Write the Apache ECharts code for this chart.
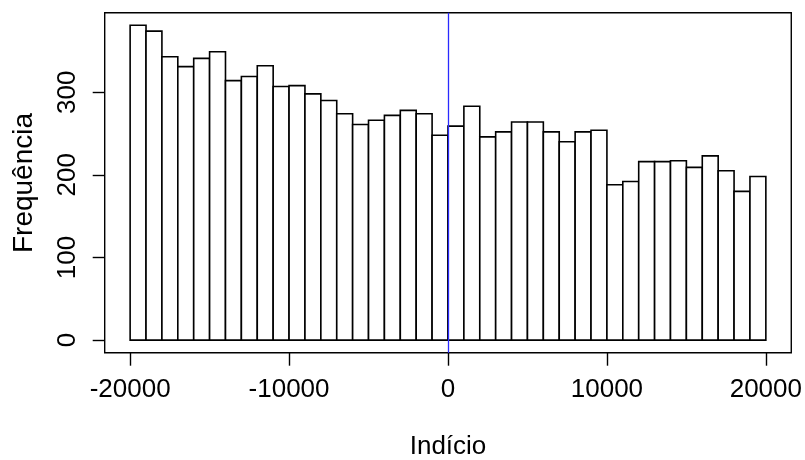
<!DOCTYPE html>
<html>
<head>
<meta charset="utf-8">
<script src="https://cdn.jsdelivr.net/npm/echarts@6/dist/echarts.min.js"></script>
<style>html,body{margin:0;padding:0;background:#fff}#c{width:805px;height:460px}</style>
</head>
<body>
<div id="c"></div>
<script>
// Histogram bin edges (width 1000) and counts
var breaks = [-20000,-19000,-18000,-17000,-16000,-15000,-14000,-13000,-12000,-11000,
  -10000,-9000,-8000,-7000,-6000,-5000,-4000,-3000,-2000,-1000,
  0,1000,2000,3000,4000,5000,6000,7000,8000,9000,
  10000,11000,12000,13000,14000,15000,16000,17000,18000,19000,20000];
var counts = [381,374,343,331,341,349,314,319,332,307,
  308,298,290,274,261,266,272,278,274,248,
  259,283,246,252,264,264,252,240,252,254,
  188,192,216,216,217,209,223,205,180,198];
var xTicks = [-20000,-10000,0,10000,20000];
var yTicks = [0,100,200,300];
var vLine = 0;
var xTitle = 'Indício';
var yTitle = 'Frequência';

var binData = counts.map(function(c, i){ return [breaks[i], breaks[i+1], c]; });
var xSpan = breaks[breaks.length-1] - breaks[0];
var yMaxC = Math.max.apply(null, counts);
var FONT = "'Liberation Sans', Arial, sans-serif";

var chart = echarts.init(document.getElementById('c'), null, {renderer:'canvas'});
chart.setOption({
  animation:false,
  backgroundColor:'#fff',
  grid:{left:104.7, top:12.7, width:687.3, height:340, show:true, borderColor:'#000', borderWidth:1.4, backgroundColor:'transparent'},
  xAxis:{
    type:'value', min:breaks[0]-0.04*xSpan, max:breaks[breaks.length-1]+0.04*xSpan,
    axisLine:{show:false, onZero:false}, splitLine:{show:false},
    axisTick:{show:true, customValues:xTicks, length:13, lineStyle:{color:'#000', width:1.4}},
    axisLabel:{customValues:xTicks, color:'#000', fontSize:26, fontFamily:FONT, margin:24,
      formatter:function(v){ return String(v); }}
  },
  yAxis:{
    type:'value', min:-0.04*yMaxC, max:yMaxC*1.04,
    axisLine:{show:false, onZero:false}, splitLine:{show:false},
    axisTick:{show:true, customValues:yTicks, length:12, lineStyle:{color:'#000', width:1.4}},
    axisLabel:{customValues:yTicks, color:'#000', fontSize:26, fontFamily:FONT, rotate:90, margin:24,
      formatter:function(v){ return String(v); }}
  },
  graphic:[
    {type:'text', x:448, y:447, style:{text:xTitle, fill:'#000', font:'26px '+FONT, textAlign:'center', textVerticalAlign:'middle'}},
    {type:'text', x:24, y:183, rotation:Math.PI/2, style:{text:yTitle, fill:'#000', font:'28px '+FONT, textAlign:'center', textVerticalAlign:'middle'}}
  ],
  series:[{
    type:'custom',
    data:binData,
    encode:{x:[0,1], y:2},
    renderItem:function(params, api){
      var p0 = api.coord([api.value(0), 0]);
      var p1 = api.coord([api.value(1), api.value(2)]);
      return {type:'rect', shape:{x:p0[0], y:p1[1], width:p1[0]-p0[0], height:p0[1]-p1[1]},
        style:{fill:'#fff', stroke:'#000', lineWidth:1.6}};
    },
    markLine:{silent:true, symbol:['none','none'], label:{show:false},
      lineStyle:{color:'#2a2aff', width:1.3, type:'solid', opacity:1},
      data:[{xAxis:vLine}]}
  }]
});
</script>
</body>
</html>
